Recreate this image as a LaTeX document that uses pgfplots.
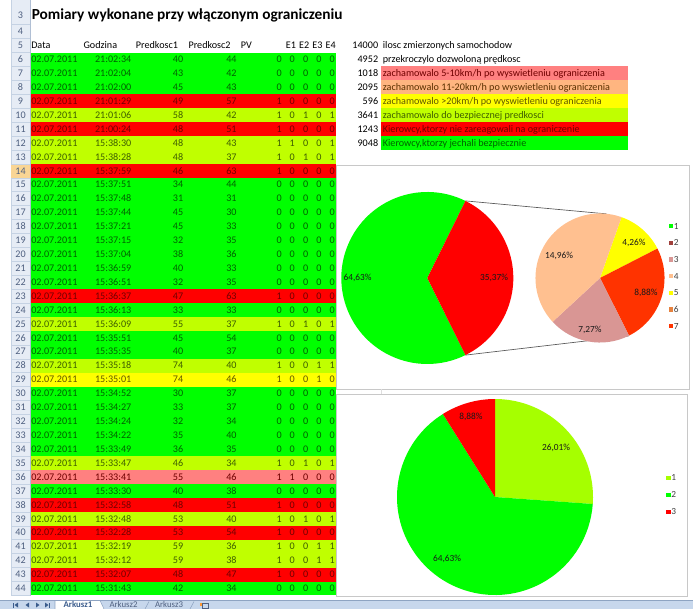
\documentclass[border=0pt]{standalone}
\usepackage{pgfplots}
\usepackage{pgfplotstable}
\pgfplotsset{compat=1.18}
\usepackage{fontspec}
\setmainfont{Carlito}

\definecolor{fillG}{HTML}{00FF00}
\definecolor{fillR}{HTML}{FF0000}
\definecolor{fillY}{HTML}{C0FF00}
\definecolor{fillW}{HTML}{FFFF00}
\definecolor{fillP}{HTML}{FF8080}
\definecolor{txtG}{HTML}{006100}
\definecolor{txtR}{HTML}{700000}
\definecolor{txtY}{HTML}{3F5F00}
\definecolor{txtW}{HTML}{5F5600}
\definecolor{txtP}{HTML}{700000}
\definecolor{hdrbg}{HTML}{E6ECF5}
\definecolor{hdrline}{HTML}{C5D2E3}
\definecolor{hdrtxt}{HTML}{4F6080}
\definecolor{hdrsel}{HTML}{F9D594}
\definecolor{peach}{HTML}{FFB580}
\definecolor{pieP}{HTML}{FFC090}
\definecolor{rose}{HTML}{D99694}
\definecolor{redor}{HTML}{FF3300}
\definecolor{brick}{HTML}{A0403C}
\definecolor{orng}{HTML}{E6823F}
\definecolor{ygreen}{HTML}{A6FF00}
\definecolor{frame}{HTML}{C8C8C8}
\definecolor{tabbar}{HTML}{C7D7EC}
\definecolor{tabline}{HTML}{8EA4C2}
\definecolor{navc}{HTML}{3B5C8C}
\definecolor{txtO}{HTML}{5A3000}

\newcommand{\cellfont}{\fontsize{7.6}{9}\selectfont}
\newcommand{\piefont}{\fontsize{7}{8}\selectfont}

% pie wedge mark: radius = mark size, angles from the table
\pgfdeclareplotmark{wedge}{%
  \pgfpathmoveto{\pgfpointorigin}%
  \pgfpathlineto{\pgfpointpolar{\wa}{\pgfplotmarksize}}%
  \pgfpatharc{\wa}{\wb}{\pgfplotmarksize}%
  \pgfpathclose
  \pgfusepath{fill}}

% main pie (pie of pie): 64.63 / 35.37
\pgfplotstableread{
x y pct a0 a1
427.3 278 64.63 63.666 296.334
427.3 278 35.37 -63.666 63.666
}\pieA
% secondary pie: 4.26 / 8.88 / 7.27 / 14.96
\pgfplotstableread{
x y pct a0 a1
600 278 4.26 27.14 70.5
600 278 8.88 -63.24 27.14
600 278 7.27 -137.23 -63.24
600 278 14.96 70.5 222.77
}\pieB
% lower pie: 26.01 / 64.63 / 8.88
\pgfplotstableread{
x y pct a0 a1
495 497 26.01 -4.09 90
495 497 64.63 122.12 355.91
495 497 8.88 90 122.12
}\pieC

\pgfplotsset{
  pieax/.style={at={(0pt,0pt)}, anchor=north west, scale only axis,
    width=519.75pt, height=456.75pt, xmin=0, xmax=693, ymin=0, ymax=609,
    y dir=reverse, hide axis, clip=false,
    legend image code/.code={\fill[##1, draw=none] (0pt,-1.7pt) rectangle (3.4pt,1.7pt);},
    legend cell align=left},
  slice/.style 2 args={only marks, mark=wedge, forget plot,
    x filter/.expression={\coordindex==#1 ? x : nan},
    mark options={fill=#2, draw=none},
    visualization depends on={\thisrow{a0}\as\wa},
    visualization depends on={\thisrow{a1}\as\wb}},
}

\begin{document}
\begin{tikzpicture}
\begin{scope}[x=0.75pt,y=-0.75pt]
\path[use as bounding box] (0,0) rectangle (693,609);
\fill[white] (0,0) rectangle (693,609);

% row headers
\fill[hdrbg] (11,0) rectangle (30,595.5);
\draw[hdrline] (11,0) -- (11,595.5);
\draw[tabline!70] (30,0) -- (30,595.5);
\draw[hdrline] (11,24.7) -- (30,24.7);
\node[font=\cellfont, text=hdrtxt, anchor=base] at (20.5,18.2) {3};
\fill[hdrsel] (11,{59.5+13.92*8-6.96}) rectangle (30,{59.5+13.92*8+6.96});
\foreach \rw in {4,...,44}{
  \pgfmathsetmacro\yy{59.5+13.92*(\rw-6)}
  \draw[hdrline] (11,\yy+6.96) -- (30,\yy+6.96);
  \node[font=\cellfont, text=hdrtxt, anchor=base] at (20.5,\yy+3.15) {\rw};
}

% title and header row
\node[font=\fontsize{11.5}{13}\selectfont\bfseries, anchor=base west, inner sep=0pt] at (31.5,20) {Pomiary wykonane przy włączonym ograniczeniu};
\foreach \hx/\htxt in {31/Data, 83.3/Godzina, 135.7/Predkosc1, 188.3/Predkosc2, 240.7/PV, 285.7/E1, 298.9/E2, 312.1/E3, 325.3/E4}{
  \node[font=\cellfont, anchor=base west, inner sep=0pt] at (\hx,48.7) {\htxt};
}

% data rows
\foreach \rw/\tm/\pa/\pb/\pv/\ea/\eb/\ec/\ed/\kk in {
6/21:02:34/40/44/0/0/0/0/0/G, 7/21:02:04/43/42/0/0/0/0/0/G, 8/21:02:00/45/43/0/0/0/0/0/G,
9/21:01:29/49/57/1/0/0/0/0/R, 10/21:01:06/58/42/1/0/1/0/1/Y, 11/21:00:24/48/51/1/0/0/0/0/R,
12/15:38:30/48/43/1/1/0/0/1/Y, 13/15:38:28/48/37/1/0/1/0/1/Y, 14/15:37:59/46/63/1/0/0/0/0/R,
15/15:37:51/34/44/0/0/0/0/0/G, 16/15:37:48/31/31/0/0/0/0/0/G, 17/15:37:44/45/30/0/0/0/0/0/G,
18/15:37:21/45/33/0/0/0/0/0/G, 19/15:37:15/32/35/0/0/0/0/0/G, 20/15:37:04/38/36/0/0/0/0/0/G,
21/15:36:59/40/33/0/0/0/0/0/G, 22/15:36:51/32/35/0/0/0/0/0/G, 23/15:36:37/47/63/1/0/0/0/0/R,
24/15:36:13/33/33/0/0/0/0/0/G, 25/15:36:09/55/37/1/0/1/0/1/Y, 26/15:35:51/45/54/0/0/0/0/0/G,
27/15:35:35/40/37/0/0/0/0/0/G, 28/15:35:18/74/40/1/0/0/1/1/Y, 29/15:35:01/74/46/1/0/0/1/0/W,
30/15:34:52/30/37/0/0/0/0/0/G, 31/15:34:27/33/37/0/0/0/0/0/G, 32/15:34:24/32/34/0/0/0/0/0/G,
33/15:34:22/35/40/0/0/0/0/0/G, 34/15:33:49/36/35/0/0/0/0/0/G, 35/15:33:47/46/34/1/0/1/0/1/Y,
36/15:33:41/55/46/1/1/0/0/0/P, 37/15:33:30/40/38/0/0/0/0/0/G, 38/15:32:58/48/51/1/0/0/0/0/R,
39/15:32:48/53/40/1/0/1/0/1/Y, 40/15:32:28/53/54/1/0/0/0/0/R, 41/15:32:19/59/36/1/0/0/1/1/Y,
42/15:32:12/59/38/1/0/0/1/1/Y, 43/15:32:07/48/47/1/0/0/0/0/R, 44/15:31:43/42/34/0/0/0/0/0/G}{
  \pgfmathsetmacro\yy{59.5+13.92*(\rw-6)}
  \pgfmathsetmacro\bl{\yy+3.15}
  \fill[fill\kk] (30.5,\yy-6.96) rectangle (336.3,\yy+6.96);
  \begin{scope}[every node/.style={font=\cellfont, text=txt\kk, inner sep=0pt}]
    \node[anchor=base west] at (31,\bl) {02.07.2011};
    \node[anchor=base east] at (131.6,\bl) {\tm};
    \node[anchor=base east] at (183.4,\bl) {\pa};
    \node[anchor=base east] at (236.8,\bl) {\pb};
    \node[anchor=base east] at (282,\bl) {\pv};
    \node[anchor=base east] at (295,\bl) {\ea};
    \node[anchor=base east] at (308.5,\bl) {\eb};
    \node[anchor=base east] at (321.8,\bl) {\ec};
    \node[anchor=base east] at (335,\bl) {\ed};
  \end{scope}
}

% summary block
\foreach \rw/\cc in {7/fillP, 8/peach, 9/fillW, 10/fillY, 11/fillR, 12/fillG}{
  \pgfmathsetmacro\yy{59.5+13.92*(\rw-6)}
  \fill[\cc] (380.7,\yy-6.96) rectangle (628.3,\yy+6.96);
}
\foreach \rw/\nn/\ss/\tc in {
5/14000/{ilosc zmierzonych samochodow}/black,
6/4952/{przekroczylo dozwoloną prędkosc}/black,
7/1018/{zachamowalo 5-10km/h po wyswietleniu ograniczenia}/txtR,
8/2095/{zachamowalo 11-20km/h po wyswietleniu ograniczenia}/txtO,
9/596/{zachamowalo >20km/h po wyswietleniu ograniczenia}/txtW,
10/3641/{zachamowalo do bezpiecznej predkosci}/txtY,
11/1243/{Kierowcy,ktorzy nie zareagowali na ograniczenie}/txtR,
12/9048/{Kierowcy,ktorzy jechali bezpiecznie}/txtG}{
  \pgfmathsetmacro\yy{59.5+13.92*(\rw-6)}
  \pgfmathsetmacro\bl{\yy+3.15}
  \node[font=\cellfont, anchor=base east, inner sep=0pt] at (378.4,\bl) {\nn};
  \node[font=\cellfont, anchor=base west, inner sep=0pt, text=\tc] at (382.6,\bl) {\ss};
}

% chart frames
\draw[frame] (336.5,165) rectangle (689,389);
\draw[frame] (336.5,394) rectangle (687,596);
\draw[frame!60] (381.7,389) -- (381.7,394);

% sheet tabs
\fill[tabbar] (0,600.5) rectangle (693,609);
\draw[tabline] (0,600.5) -- (693,600.5);
\fill[navc] (13,602.5) rectangle (13.8,607.5);
\fill[navc] (18,602.5) -- (18,607.5) -- (14.5,605) -- cycle;
\fill[navc] (29,602.5) -- (29,607.5) -- (25.5,605) -- cycle;
\fill[navc] (36,602.5) -- (36,607.5) -- (39.5,605) -- cycle;
\fill[navc] (45,602.5) -- (45,607.5) -- (48.5,605) -- cycle;
\fill[navc] (49.2,602.5) rectangle (50,607.5);
\fill[white] (55,600.5) -- (55,609) -- (104,609) -- (100,600.5) -- cycle;
\draw[tabline] (55,609) -- (55,600.5) -- (100,600.5) -- (104,609);
\draw[tabline] (145,609) -- (149,601.5);
\draw[tabline] (190,609) -- (194,601.5);
\node[font=\fontsize{6.6}{7}\selectfont\bfseries, text=navc, anchor=base, inner sep=0pt] at (78,607.6) {Arkusz1};
\node[font=\fontsize{6.6}{7}\selectfont, text=hdrtxt, anchor=base, inner sep=0pt] at (123.5,607.6) {Arkusz2};
\node[font=\fontsize{6.6}{7}\selectfont, text=hdrtxt, anchor=base, inner sep=0pt] at (169,607.6) {Arkusz3};
\fill[orange!80] (199.5,602.5) rectangle (202.5,605.5);
\draw[hdrtxt] (202.5,603.5) rectangle (208,608.5);
\end{scope}

% ---- pie of pie chart ----
\begin{axis}[pieax,
  legend style={draw=none, fill=none, at={(0.9644,0.6350)}, anchor=north west,
    inner sep=0pt, row sep=7pt, font=\piefont, text=black!75,
    nodes={inner sep=0.5pt, text height=4.5pt, text depth=0pt},
    /tikz/every even column/.style={column sep=1.5pt}}]
\addplot[slice={0}{fillG}, mark size=64.5pt] table[x=x, y=y] {\pieA};
\addplot[slice={1}{fillR}, mark size=64.5pt] table[x=x, y=y] {\pieA};
\addplot[slice={0}{fillW}, mark size=48.4pt] table[x=x, y=y] {\pieB};
\addplot[slice={1}{redor}, mark size=48.4pt] table[x=x, y=y] {\pieB};
\addplot[slice={2}{rose}, mark size=48.4pt] table[x=x, y=y] {\pieB};
\addplot[slice={3}{pieP}, mark size=48.4pt] table[x=x, y=y] {\pieB};
\addplot[draw=black!65, line width=0.5pt, forget plot] coordinates {(465.4,200.9) (606.7,213.9)};
\addplot[draw=black!65, line width=0.5pt, forget plot] coordinates {(465.4,355.1) (628.5,336)};
\addlegendimage{fill=fillG}\addlegendentry{1}
\addlegendimage{fill=brick}\addlegendentry{2}
\addlegendimage{fill=rose}\addlegendentry{3}
\addlegendimage{fill=pieP}\addlegendentry{4}
\addlegendimage{fill=fillW}\addlegendentry{5}
\addlegendimage{fill=orng}\addlegendentry{6}
\addlegendimage{fill=redor}\addlegendentry{7}
\end{axis}

% ---- lower pie chart ----
\begin{axis}[pieax,
  legend style={draw=none, fill=none, at={(0.9610,0.2217)}, anchor=north west,
    inner sep=0pt, row sep=7.25pt, font=\piefont, text=black!75,
    nodes={inner sep=0.5pt, text height=4.5pt, text depth=0pt},
    /tikz/every even column/.style={column sep=1.5pt}}]
\addplot[slice={0}{ygreen}, mark size=73.5pt] table[x=x, y=y] {\pieC};
\addplot[slice={1}{fillG}, mark size=73.5pt] table[x=x, y=y] {\pieC};
\addplot[slice={2}{fillR}, mark size=73.5pt] table[x=x, y=y] {\pieC};
\addlegendimage{fill=ygreen}\addlegendentry{1}
\addlegendimage{fill=fillG}\addlegendentry{2}
\addlegendimage{fill=fillR}\addlegendentry{3}
\end{axis}

% ---- percentage labels (on top of the wedges) ----
\begin{scope}[x=0.75pt,y=-0.75pt, every node/.style={font=\piefont, text=black!90}]
\node at (357.5,278.3) {64,63\%};
\node at (494,278.3) {35,37\%};
\node at (559,256.3) {14,96\%};
\node at (634,242.7) {4,26\%};
\node at (646,292.7) {8,88\%};
\node at (590,330) {7,27\%};
\node at (556,448.3) {26,01\%};
\node at (471,416.7) {8,88\%};
\node at (447,559.3) {64,63\%};
\end{scope}
\end{tikzpicture}
\end{document}
